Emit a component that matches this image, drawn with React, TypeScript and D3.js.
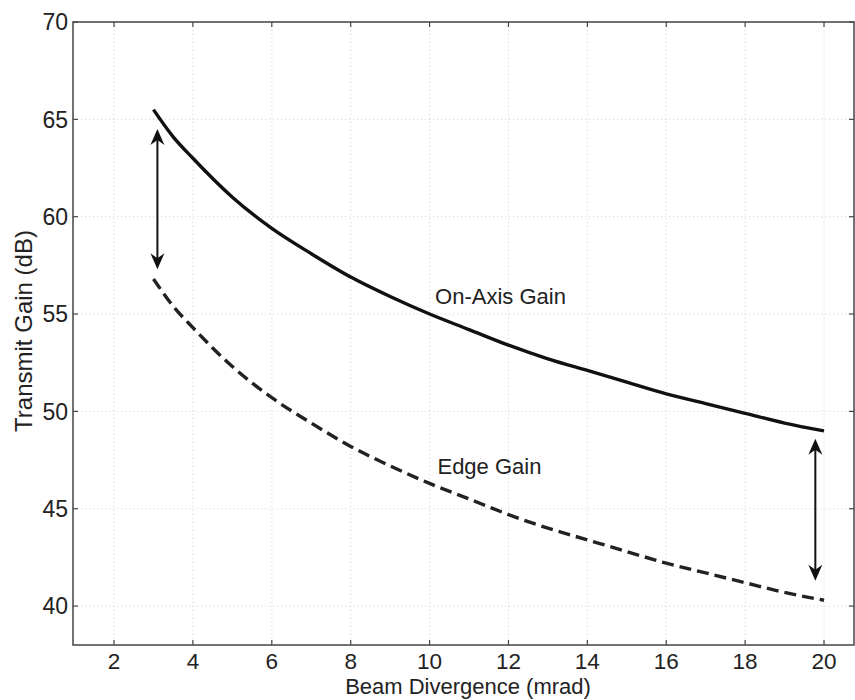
import React from "react";
import * as d3 from "d3";

const xTicks = [2, 4, 6, 8, 10, 12, 14, 16, 18, 20];
const yTicks = [40, 45, 50, 55, 60, 65, 70];

const divergence = [3, 3.5, 4, 5, 6, 7, 8, 9, 10, 11, 12, 13, 14, 15, 16, 17, 18, 19, 20];
const onAxisGain = [65.5, 64.1, 63.0, 61.0, 59.4, 58.1, 56.9, 55.9, 55.0, 54.2, 53.4, 52.7, 52.1, 51.5, 50.9, 50.4, 49.9, 49.4, 49.0];
const edgeGain = [56.8, 55.4, 54.3, 52.3, 50.7, 49.4, 48.2, 47.2, 46.3, 45.5, 44.7, 44.0, 43.4, 42.8, 42.2, 41.7, 41.2, 40.7, 40.3];

const arrows = [
  { x: 3.1, y1: 64.5, y2: 57.3 },
  { x: 19.78, y1: 48.6, y2: 41.3 },
];
const labels = [
  { text: "On-Axis Gain", x: 10.14, y: 55.5 },
  { text: "Edge Gain", x: 10.2, y: 46.8 },
];

const W = 855;
const H = 700;
const L = 73, R = 854, T = 22, B = 645;
const font = "'Liberation Sans', Arial, sans-serif";

export default function App() {
  const x = d3.scaleLinear().domain([0.96, 20.76]).range([L, R]);
  const y = d3.scaleLinear().domain([38, 70]).range([B, T]);
  const line = d3
    .line<number>()
    .x((_, i) => x(divergence[i]))
    .y((d) => y(d))
    .curve(d3.curveMonotoneX);
  const tick = 5;
  const ah = 16, aw = 7;
  return (
    <svg width={W} height={H} style={{ position: "absolute", left: 0, top: 0, background: "#fff" }}>
      <rect x={0} y={0} width={W} height={H} fill="#fff" />
      {xTicks.map((t) => (
        <line key={"gx" + t} x1={x(t)} x2={x(t)} y1={T} y2={B} stroke="#cfcfcf" strokeWidth={1} strokeDasharray="1,3" />
      ))}
      {yTicks.map((t) => (
        <line key={"gy" + t} x1={L} x2={R} y1={y(t)} y2={y(t)} stroke="#cfcfcf" strokeWidth={1} strokeDasharray="1,3" />
      ))}
      <rect x={L} y={T} width={R - L} height={B - T} fill="none" stroke="#444" strokeWidth={1.5} />
      {xTicks.map((t) => (
        <g key={"tx" + t}>
          <line x1={x(t)} x2={x(t)} y1={B} y2={B - tick} stroke="#444" strokeWidth={1.2} />
          <line x1={x(t)} x2={x(t)} y1={T} y2={T + tick} stroke="#444" strokeWidth={1.2} />
          <text x={x(t)} y={B + 24} textAnchor="middle" fontFamily={font} fontSize={22.5} fill="#222">
            {t}
          </text>
        </g>
      ))}
      {yTicks.map((t) => (
        <g key={"ty" + t}>
          <line x1={L} x2={L + tick} y1={y(t)} y2={y(t)} stroke="#444" strokeWidth={1.2} />
          <line x1={R} x2={R - tick} y1={y(t)} y2={y(t)} stroke="#444" strokeWidth={1.2} />
          <text x={L - 5} y={y(t)} dy="0.36em" textAnchor="end" fontFamily={font} fontSize={23} fill="#222">
            {t}
          </text>
        </g>
      ))}
      <path d={line(onAxisGain) || ""} fill="none" stroke="#111" strokeWidth={3.4} />
      <path d={line(edgeGain) || ""} fill="none" stroke="#222" strokeWidth={3.4} strokeDasharray="12,6" />
      {arrows.map((a, i) => {
        const ax = x(a.x);
        const yt = y(a.y1);
        const yb = y(a.y2);
        return (
          <g key={"a" + i}>
            <line x1={ax} x2={ax} y1={yt + 4} y2={yb - 4} stroke="#111" strokeWidth={2} />
            <path d={`M${ax},${yt} L${ax - aw},${yt + ah} L${ax},${yt + ah - 5} L${ax + aw},${yt + ah} Z`} fill="#111" />
            <path d={`M${ax},${yb} L${ax - aw},${yb - ah} L${ax},${yb - ah + 5} L${ax + aw},${yb - ah} Z`} fill="#111" />
          </g>
        );
      })}
      {labels.map((l) => (
        <text key={l.text} x={x(l.x)} y={y(l.y)} fontFamily={font} fontSize={22} fill="#222">
          {l.text}
        </text>
      ))}
      <text x={468} y={694} textAnchor="middle" fontFamily={font} fontSize={22} fill="#222">
        Beam Divergence (mrad)
      </text>
      <text
        transform={`translate(32, 331) rotate(-90)`}
        textAnchor="middle"
        fontFamily={font}
        fontSize={24}
        fill="#222"
      >
        Transmit Gain (dB)
      </text>
    </svg>
  );
}
